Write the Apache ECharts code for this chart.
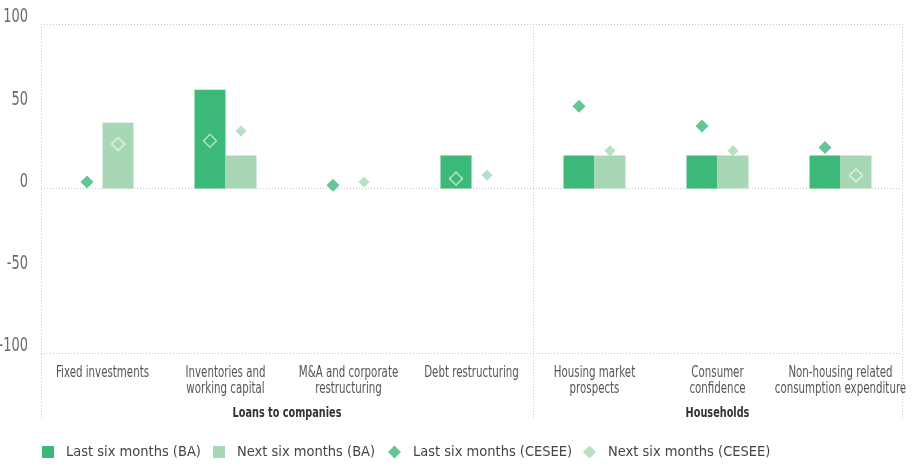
<!DOCTYPE html>
<html><head><meta charset="utf-8">
<script src="https://cdn.jsdelivr.net/npm/echarts@6/dist/echarts.min.js"></script>
<style>html,body{margin:0;padding:0;background:#fff}#c{width:923px;height:473px}</style>
</head><body><div id="c"></div>
<script>
const categories = ['Fixed investments','Inventories and\nworking capital','M&A and corporate\nrestructuring','Debt restructuring','Housing market\nprospects','Consumer\nconfidence','Non-housing related\nconsumption expenditure'];
const groups = ['Loans to companies','Households'];
const groupSizes = [4,3];
const lastBA = [0,60,0,20,20,20,20];
const nextBA = [40,20,0,0,20,20,20];
const lastCESEE = [4,29,2,6,50,38,25];
const nextCESEE = [27,35,4,8,23,23,8];
const yTicks = [-100,-50,0,50,100];
const seriesNames = ['Last six months (BA)','Next six months (BA)','Last six months (CESEE)','Next six months (CESEE)'];

const DARK = '#3cb878', LIGHT = '#a7d7b5';
function pickFont(){
  const c = document.createElement('canvas').getContext('2d');
  const cands = ['Liberation Sans Narrow','DejaVu Sans Condensed','Roboto Condensed','Open Sans Condensed','Noto Sans Condensed'];
  c.font = '40px monospace'; const base = c.measureText('abcdefghijklmnop').width;
  for (const f of cands){ c.font = '40px "'+f+'", monospace'; if (Math.abs(c.measureText('abcdefghijklmnop').width-base)>0.5) return f; }
  return null;
}
const condensed = pickFont();
const FONT = (condensed ? '"'+condensed+'",' : '') + '"Roboto","Noto Sans",sans-serif';
const SX = condensed ? 0.76 : 0.68; // horizontal squeeze to mimic a condensed face
const G = {left:41, right:21, top:24, bottom:120};
const barW = 31;

function diamonds(vals, bars, color, size){
  return vals.map((v,i)=>{
    const inside = bars[i] > v;
    return inside ? {value:v, symbolSize:13, itemStyle:{color:'rgba(0,0,0,0)', borderColor:'rgba(255,255,255,0.75)', borderWidth:1.5}}
                  : {value:v, symbolSize:size, itemStyle:{color:color}};
  });
}

const chart = echarts.init(document.getElementById('c'), null, {renderer:'canvas'});
const dotted = {color:'#c8c8c8', type:[1,2], width:1};

const legendLefts = [42, 213, 388, 583];
const legends = seriesNames.map((n,i)=>({
  data:[{name:n, icon: i<2 ? 'rect' : 'diamond'}],
  left:legendLefts[i], top:444, padding:0, itemWidth: i<2?12:13, itemHeight: i<2?12:13, itemGap:0,
  textStyle:{fontFamily:FONT, fontSize:14.5, lineHeight:16, color:'#444', padding:[0,0,0,7]},
  selectedMode:false
}));

chart.setOption({
  animation:false,
  textStyle:{fontFamily:FONT},
  grid:{left:G.left, right:G.right, top:G.top, bottom:G.bottom, containLabel:false},
  legend: legends,
  xAxis:{type:'category', data:categories, axisLine:{show:false}, axisTick:{show:false}, axisLabel:{show:false}},
  yAxis:[
    {type:'value', min:-100, max:100, interval:50, splitLine:{show:false}, axisLine:{show:false}, axisTick:{show:false}, axisLabel:{show:false}},
    {type:'value', min:-100, max:100, interval:100, axisLabel:{show:false}, axisLine:{show:false}, axisTick:{show:false},
     splitLine:{show:true, lineStyle:dotted}}
  ],
  series:[
    {name:seriesNames[0], type:'bar', data:lastBA, barWidth:barW, barGap:'0%', itemStyle:{color:DARK}},
    {name:seriesNames[1], type:'bar', data:nextBA, barWidth:barW, barGap:'0%', itemStyle:{color:LIGHT}},
    {name:seriesNames[2], type:'scatter', symbol:'diamond', data:diamonds(lastCESEE,lastBA,DARK,13), symbolOffset:[-barW/2,0], itemStyle:{color:DARK}, z:5},
    {name:seriesNames[3], type:'scatter', symbol:'diamond', data:diamonds(nextCESEE,nextBA,LIGHT,11), symbolOffset:[barW/2,0], itemStyle:{color:LIGHT}, z:5}
  ]
});

// Text labels drawn through the axes' own scales (convertToPixel), squeezed horizontally
const graphics = [];
const bottomY = chart.convertToPixel({yAxisIndex:0}, -100);
const topY = chart.convertToPixel({yAxisIndex:0}, 100);
yTicks.forEach(v=>{
  const y = chart.convertToPixel({yAxisIndex:0}, v);
  graphics.push({type:'text', x:28, y:y-6.5, scaleX:SX, silent:true,
    style:{text:String(v), fill:'#6b6b6b', font:'19px '+FONT, align:'right', verticalAlign:'middle'}});
});
categories.forEach((c,i)=>{
  const x = chart.convertToPixel({xAxisIndex:0}, i);
  graphics.push({type:'text', x:x, y:bottomY+12, scaleX:SX, silent:true,
    style:{text:c, fill:'#555', font:'15px '+FONT, lineHeight:16, align:'center', verticalAlign:'top'}});
});
// group separators and group titles
let acc = 0;
const step = chart.convertToPixel({xAxisIndex:0}, 1) - chart.convertToPixel({xAxisIndex:0}, 0);
const bounds = [chart.convertToPixel({xAxisIndex:0}, 0) - step/2];
groupSizes.forEach(n=>{acc+=n; bounds.push(bounds[0] + acc*step);});
bounds.forEach(x=>{
  graphics.push({type:'line', silent:true, shape:{x1:Math.round(x)+0.5,y1:topY,x2:Math.round(x)+0.5,y2:bottomY+66},
    style:{stroke:'#c8c8c8', lineDash:[1,2], lineWidth:1}});
});
groups.forEach((g,i)=>{
  const cx = (bounds[i]+bounds[i+1])/2;
  graphics.push({type:'text', x:cx, y:bottomY+60, scaleX:0.8, silent:true,
    style:{text:g, fill:'#333', font:'bold 13.5px '+FONT, align:'center', verticalAlign:'middle'}});
});
chart.setOption({graphic: graphics});
</script></body></html>
